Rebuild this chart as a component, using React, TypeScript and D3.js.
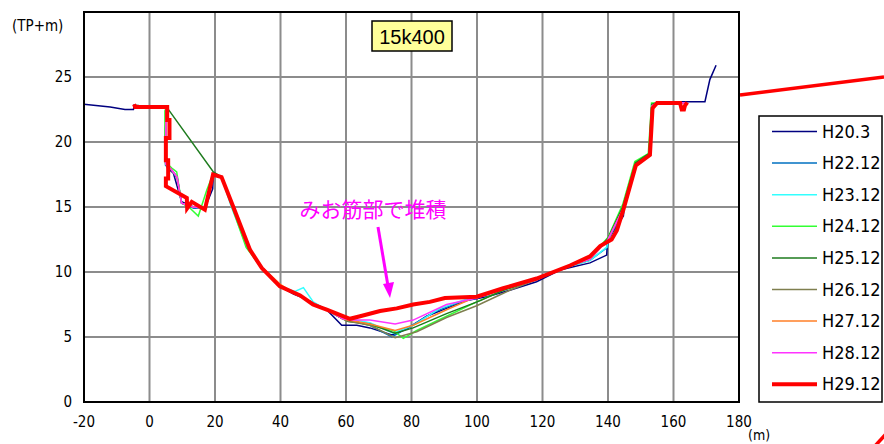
import React from 'react';
import { scaleLinear, line, range } from 'd3';

type Pt = [number, number];

// survey years
const seriesNames = ['H20.3', 'H22.12', 'H23.12', 'H24.12', 'H25.12', 'H26.12', 'H27.12', 'H28.12', 'H29.12'];
const seriesColors = ['#000080', '#0070c0', '#33ffff', '#33ff33', '#1e7b1e', '#7f7f4f', '#ff7f27', '#ff33ff', '#ff0000'];

const xTicks = [-20, 0, 20, 40, 60, 80, 100, 120, 140, 160, 180];
const yTicks = [0, 5, 10, 15, 20, 25];

const h20_3: Pt[] = [
  [-20, 22.9], [-12, 22.7], [-7.5, 22.5], [-4.9, 22.5], [-4.7, 22.8], [-4.4, 22.7], [5.2, 22.7], [5.0, 21.5],
  [5.0, 18.5], [5.5, 18.0], [7.3, 17.6], [9.8, 15.4], [13.4, 15.0], [16.9, 14.9], [19.3, 16.4], [19.5, 17.6],
  [22, 17.3], [25.6, 15.0], [30.5, 11.8], [34.3, 10.3], [39.8, 8.9], [44, 8.3], [47, 8.0], [50, 7.6],
  [54.1, 7.1], [58.7, 5.9], [63.3, 5.9], [67.3, 5.7], [74, 5.15], [78.5, 5.6], [84.6, 6.6], [90.7, 7.2],
  [96.8, 7.8], [103, 8.1], [110, 8.6], [118.2, 9.25], [125.3, 10.15], [134.5, 10.7], [139.6, 11.3],
  [139.8, 12.2], [140.3, 12.6], [144.7, 14.3], [144.9, 14.9], [148.8, 18.3], [152.8, 19.1], [153.6, 22.7],
  [154.9, 23.1], [164, 23.1], [169.6, 23.1], [171.1, 24.8], [173, 25.9],
];

const h22_12: Pt[] = [
  [-4.7, 22.8], [5.2, 22.7], [4.9, 21.0], [4.9, 18.2], [6.5, 17.9], [8.5, 17.2], [9.8, 15.3], [13.5, 14.9],
  [16.9, 14.9], [19.4, 17.5], [22, 17.3], [25.3, 15.0], [30, 11.9], [34, 10.4], [39.6, 8.9], [44, 8.4],
  [47, 8.0], [50, 7.6], [54, 7.1], [59, 6.4], [60.7, 6.3], [67.3, 5.9], [74, 5.0], [79.5, 5.8], [86.7, 6.9],
  [94.8, 7.7], [100, 8.0], [108, 8.7], [118, 9.4], [125, 10.2], [134.5, 10.9], [139.8, 11.9], [140.2, 12.5],
  [144.5, 14.6], [148.5, 18.2], [152.6, 19.0], [153.4, 22.8], [154.8, 23.0], [164, 23.0],
];

const h23_12: Pt[] = [
  [-4.7, 22.8], [5.2, 22.7], [4.9, 21.0], [4.9, 18.3], [6.6, 17.9], [8.4, 17.4], [9.8, 15.3], [13.4, 15.0],
  [16.9, 14.9], [19.4, 17.5], [22, 17.3], [25.0, 15.0], [29.8, 11.9], [33.8, 10.4], [39.6, 8.9], [44.4, 8.5],
  [47, 8.8], [50, 7.7], [54, 7.1], [59, 6.4], [60.7, 6.4], [67.3, 6.1], [74.4, 5.3], [80.5, 5.9], [88.7, 7.2],
  [98.9, 8.1], [108, 8.7], [118, 9.4], [125, 10.2], [134.5, 10.9], [139.6, 11.9], [140.1, 12.5], [144.4, 14.9],
  [148.4, 18.3], [152.5, 19.0], [153.3, 22.9], [154.7, 23.0], [164, 23.0],
];

const h24_12: Pt[] = [
  [-4.7, 22.8], [5.2, 22.7], [4.7, 22.4], [4.7, 18.5], [6.8, 18.0], [8.3, 17.7], [9.8, 15.3], [12, 15.0],
  [14.9, 14.3], [17.5, 16.3], [19.5, 17.6], [22, 17.3], [25.2, 15.0], [29.5, 11.9], [34, 10.4], [39.6, 8.9],
  [44, 8.4], [47, 8.0], [50, 7.6], [54, 7.1], [59, 6.4], [60.7, 6.3], [67.3, 5.9], [74.4, 5.5], [77.5, 4.9],
  [81.6, 5.5], [90.7, 6.6], [99.9, 7.7], [108, 8.6], [118, 9.4], [125, 10.2], [134.5, 11.1], [140.1, 12.7],
  [144.5, 15.2], [148.2, 18.5], [152.3, 19.1], [153.3, 23.0], [164, 23.0],
];

const h25_12: Pt[] = [
  [-4.7, 22.8], [5.2, 22.7], [19.5, 17.7], [22, 17.3], [25.4, 15.0], [30.2, 11.8], [34, 10.4], [39.7, 8.9],
  [44, 8.4], [47, 8.0], [50, 7.6], [54, 7.1], [59, 6.4], [60.7, 6.2], [67.3, 6.0], [75, 5.3], [80.5, 5.7],
  [90.7, 6.8], [101, 7.8], [108, 8.6], [118, 9.4], [125, 10.2], [134.5, 11.0], [140.0, 12.6], [144.5, 15.0],
  [148.4, 18.4], [152.5, 19.1], [153.4, 22.9], [154.8, 23.0], [164, 23.0],
];

const h26_12: Pt[] = [
  [-4.7, 22.8], [5.2, 22.7], [4.9, 21.0], [4.9, 18.3], [6.6, 17.9], [8.4, 17.3], [9.8, 15.3], [13.4, 15.0],
  [16.9, 14.9], [19.4, 17.5], [22, 17.3], [25.4, 15.0], [30.2, 11.8], [34, 10.4], [39.7, 8.9], [44, 8.4],
  [47, 8.0], [50, 7.6], [54, 7.1], [59, 6.4], [60.7, 6.2], [67.3, 5.9], [75, 4.95], [81.6, 5.4], [90.7, 6.5],
  [99.9, 7.4], [110, 8.6], [118, 9.4], [125, 10.2], [134.5, 11.0], [140.0, 12.5], [144.5, 14.8], [148.5, 18.2],
  [152.6, 19.0], [153.5, 22.8], [154.9, 23.0], [164, 23.0],
];

const h27_12: Pt[] = [
  [-4.7, 22.8], [5.2, 22.7], [5.0, 21.0], [5.0, 18.3], [6.6, 17.9], [8.4, 17.3], [9.8, 15.3], [13.4, 15.0],
  [16.9, 14.9], [19.4, 17.5], [22, 17.3], [25.5, 15.0], [30.4, 11.8], [34.2, 10.4], [40.2, 9.0], [44, 8.4],
  [47, 8.0], [50, 7.6], [54, 7.1], [59, 6.4], [60.7, 6.3], [67.3, 6.0], [75, 5.5], [80.5, 5.9], [90.7, 7.1],
  [98.9, 8.0], [108, 8.7], [118, 9.4], [125, 10.2], [134.5, 11.0], [140.0, 12.5], [144.5, 14.8], [148.5, 18.2],
  [152.6, 19.0], [153.5, 22.8], [154.9, 23.0], [164, 23.0],
];

const h28_12: Pt[] = [
  [-4.7, 22.8], [5.2, 22.7], [5.0, 21.0], [5.0, 18.3], [6.6, 17.9], [8.4, 17.3], [9.8, 15.3], [13.4, 15.0],
  [16.9, 14.9], [19.4, 17.5], [22, 17.3], [25.5, 15.0], [30.4, 11.8], [34.2, 10.4], [39.8, 8.9], [44, 8.4],
  [47, 8.0], [50, 7.6], [54, 7.1], [59, 6.4], [62.2, 6.3], [67.3, 6.3], [75, 6.0], [80.5, 6.3], [90.7, 7.5],
  [99.9, 8.0], [108, 8.7], [118, 9.4], [125, 10.2], [134.5, 11.0], [140.0, 12.5], [144.5, 14.8], [148.5, 18.2],
  [152.6, 19.0], [153.5, 22.8], [154.9, 23.0], [164, 23.0],
];

const h29_12: Pt[] = [
  [-4.7, 22.9], [-4.4, 22.7], [5.4, 22.7], [5.4, 21.7], [6.1, 21.7], [6.1, 20.3], [5.0, 20.3], [5.0, 18.6],
  [5.7, 18.6], [5.7, 17.2], [5.0, 17.2], [5.0, 16.6], [11.4, 15.7], [11.5, 14.9], [12.9, 15.4], [16.9, 14.8],
  [19.4, 17.5], [22, 17.3], [25.6, 15.0], [30.7, 11.7], [34.3, 10.3], [39.8, 8.9], [46, 8.2], [49.9, 7.5],
  [54.1, 7.1], [61.2, 6.4], [64.3, 6.6], [70.4, 7.0], [75.5, 7.2], [80.5, 7.5], [85.6, 7.7], [90.2, 8.0],
  [99.9, 8.1], [108, 8.75], [118.2, 9.5], [128.4, 10.5], [134.5, 11.2], [137.6, 12.0], [141.1, 12.5],
  [142.7, 13.2], [144.7, 14.8], [148.5, 18.2], [152.8, 19.0], [153.6, 22.6], [155, 23.0], [162, 23.0],
  [162.5, 22.5], [163.2, 22.5], [163.5, 22.8], [164.2, 23.05],
];

const seriesData = [h20_3, h22_12, h23_12, h24_12, h25_12, h26_12, h27_12, h28_12, h29_12];

const App = () => {
  // vars
  const width = 884;
  const height = 444;
  const left = 84;
  const right = 739;
  const top = 12;
  const bottom = 402;
  const font = '"Liberation Sans Narrow", "DejaVu Sans Condensed", "Noto Sans CJK JP", sans-serif';

  const x = scaleLinear().domain([-20, 180]).range([left, right]);
  const y = scaleLinear().domain([0, 30]).range([bottom, top]);

  const path = line<Pt>()
    .x(d => x(d[0]))
    .y(d => y(d[1]));

  const gridX = xTicks.filter(t => t > -20 && t < 180);
  const gridY = yTicks.filter(t => t > 0);

  const lines = seriesData.map((d, i) => (
    <path
      key={seriesNames[i]}
      d={path(d) || ''}
      fill="none"
      stroke={seriesColors[i]}
      strokeWidth={i === 8 ? 4 : 1.5}
      strokeLinejoin="miter"
    />
  ));

  const legendY = range(seriesNames.length).map(i => 131.5 + i * 31.6);

  return (
    <div style={{ position: 'absolute', left: 0, top: 0 }}>
      <svg width={width} height={height} style={{ display: 'block', background: '#fff' }}>
        {/* red line from the neighbouring figure */}
        <line x1={740} y1={95} x2={884} y2={77} stroke="#ff0000" strokeWidth={3.5} />
        <line x1={875} y1={446} x2={886} y2={434} stroke="#ff0000" strokeWidth={3.5} />

        {/* grid */}
        {gridX.map(t => (
          <line key={'gx' + t} x1={x(t)} x2={x(t)} y1={top} y2={bottom} stroke="#8c8c8c" strokeWidth={2} />
        ))}
        {gridY.map(t => (
          <line key={'gy' + t} x1={left} x2={right} y1={y(t)} y2={y(t)} stroke="#8c8c8c" strokeWidth={2} />
        ))}

        {lines}

        {/* frame */}
        <rect x={left} y={top} width={right - left} height={bottom - top} fill="none" stroke="#000" strokeWidth={2} />

        {/* ticks */}
        {yTicks.map(t => (
          <text key={'ty' + t} x={72} y={y(t) + 5} textAnchor="end" fontSize={15} fontFamily={font}>
            {t}
          </text>
        ))}
        {xTicks.map(t => (
          <text key={'tx' + t} x={x(t)} y={427} textAnchor="middle" fontSize={15} fontFamily={font}>
            {t}
          </text>
        ))}
        <text x={12} y={31} fontSize={15} fontFamily={font}>(TP+m)</text>
        <text x={748} y={440} fontSize={14} fontFamily={font}>(m)</text>

        {/* title */}
        <rect x={372} y={21} width={80} height={30} fill="#ffff99" stroke="#000" strokeWidth={1.5} />
        <text x={412} y={43.5} textAnchor="middle" fontSize={20} fontFamily='"Liberation Sans", Arial, sans-serif'>
          15k400
        </text>

        {/* annotation */}
        <text x={373} y={217} textAnchor="middle" fontSize={21} fill="#ff00ff" fontFamily='"Noto Sans CJK JP", sans-serif'>
          みお筋部で堆積
        </text>
        <line x1={378} y1={227} x2={388} y2={286} stroke="#ff00ff" strokeWidth={3} />
        <polygon points="390,298 383,284 394,282" fill="#ff00ff" />

        {/* legend */}
        <rect x={759} y={116} width={123} height={286} fill="#fff" stroke="#000" strokeWidth={1.5} />
        {seriesNames.map((name, i) => (
          <g key={name} transform={`translate(0,${legendY[i]})`}>
            <line x1={772} x2={817} y1={0} y2={0} stroke={seriesColors[i]} strokeWidth={i === 8 ? 4 : 1.5} />
            <text x={822} y={6} fontSize={18} fontFamily={font}>
              {name}
            </text>
          </g>
        ))}
      </svg>
    </div>
  );
};

export default App;
